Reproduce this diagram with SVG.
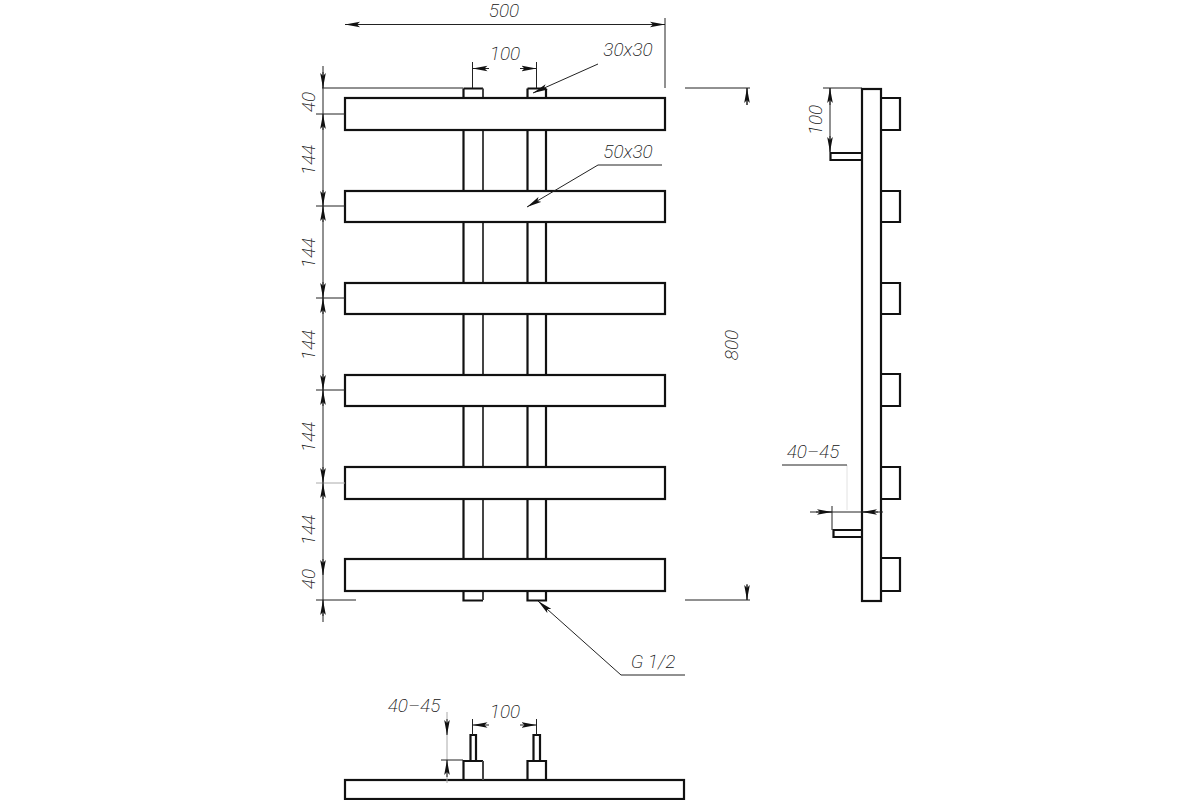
<svg xmlns="http://www.w3.org/2000/svg" width="1200" height="800" viewBox="0 0 1200 800">
<style>
.o{fill:#fff;stroke:#111;stroke-width:2.2}
.p{fill:none;stroke:#111;stroke-width:2.2}
.g{fill:none;stroke:#444;stroke-width:2}
.t{fill:none;stroke:#222;stroke-width:1}
.l{fill:none;stroke:#aaa;stroke-width:1}
.f{fill:none;stroke:#e2e2e2;stroke-width:1}
.a{fill:none;stroke:#222;stroke-width:1;marker-end:url(#h)}
text{font-family:Roboto,"Liberation Sans",sans-serif;font-style:italic;font-weight:200;font-size:19px;fill:#111;text-anchor:middle}
</style>
<defs><marker id="h" markerUnits="userSpaceOnUse" markerWidth="16" markerHeight="7" refX="15" refY="3.500" orient="auto"><path d="M0 .7L15 3.500L0 6.300L3 3.500Z" fill="#111"/></marker></defs>
<rect width="1200" height="800" fill="#fff"/>
<g id="front-view">
<path class="p" d="M463.500 88.500H483M527.500 88.500H546M463.500 88.500V98M527.500 88.500V98M546 88.500V98"/>
<path class="g" d="M483 88.500V98"/>
<path class="p" d="M463.500 130V191M463.500 222V283M463.500 314V375M463.500 406V467M463.500 499V559M463.500 591V600.500H483M527.500 130V191M527.500 222V283M527.500 314V375M527.500 406V467M527.500 499V559M527.500 591V600.500H546V591M546 130V191M546 222V283M546 314V375M546 406V467M546 499V559"/>
<path class="g" d="M483 130V191M483 222V283M483 314V375M483 406V467M483 499V559M483 591V600"/>
<rect class="o" x="345" y="98" width="320" height="32"/>
<rect class="o" x="345" y="191" width="320" height="31"/>
<rect class="o" x="345" y="283" width="320" height="31"/>
<rect class="o" x="345" y="375" width="320" height="31"/>
<rect class="o" x="345" y="467" width="320" height="32"/>
<rect class="o" x="345" y="559" width="320" height="32"/>
</g>
<g id="side-view">
<rect class="o" x="862" y="89" width="19" height="512"/>
<path class="p" d="M881 98H900V130H881M881 191H900V222H881M881 283H900V314H881M881 374H900V406H881M881 467H900V499H881M881 558H900V591H881"/>
<path class="p" d="M862 153H830.500V160H862M862 530H833.500V537H862"/>
</g>
<g id="bottom-view">
<rect class="o" x="345" y="780" width="339" height="19"/>
<path class="p" d="M463.500 780V761H483M527.500 780V761H546V780"/>
<path class="g" d="M483 761V780"/>
<path class="p" d="M470.500 761V735H476V761M533.500 761V735H540V761"/>
</g>
<g id="connectors">
<path class="t" d="M345 24.500H665M665 18V88M323 66V622M322 88H463M472.500 62V88M536.500 62V88"/>
<path class="t" d="M316 114H345M316 206H345M316 298H345M316 390H345M316 600H356"/>
<path class="l" d="M316 483H345M447 712V783"/>
<path class="f" d="M847 465V510"/>
<path class="t" d="M685 88H750M685 600H750M747 88V105M747 585V600"/>
<path class="t" d="M823 88H862M830 88V152M810 512H883M832 506V530M782 465H847M621 675H685M598 165H662"/>
<path class="t" d="M441 760H463M472.500 719V735M536.500 719V735"/>
<path class="a" d="M362 24.500H345"/><path class="a" d="M648 24.500H665"/>
<path class="a" d="M489 68.500H472.500"/><path class="a" d="M520 68.500H536.500"/>
<path class="a" d="M489 725H472.500"/><path class="a" d="M520 725H536.500"/>
<path class="a" d="M598 64L533 93"/><path class="a" d="M598 165L527 207"/><path class="a" d="M621 675L538 601"/>
<path class="a" d="M323 72V88"/><path class="a" d="M323 130V114"/><path class="a" d="M323 190V206"/><path class="a" d="M323 222V206"/><path class="a" d="M323 282V298"/><path class="a" d="M323 314V298"/><path class="a" d="M323 374V390"/><path class="a" d="M323 406V390"/><path class="a" d="M323 467V483"/><path class="a" d="M323 499V483"/><path class="a" d="M323 559V575"/><path class="a" d="M323 616V600"/>
<path class="a" d="M747 105V88"/><path class="a" d="M747 584V600"/>
<path class="a" d="M830 105V88"/><path class="a" d="M830 136V152"/>
<path class="a" d="M816 512H832"/><path class="a" d="M878 512H862"/>
<path class="a" d="M447 719V735"/><path class="a" d="M447 777V760"/>
</g>
<g id="labels">
<text x="504" y="17">500</text>
<text x="505" y="60">100</text>
<text x="628" y="56">30x30</text>
<text x="628" y="158">50x30</text>
<text x="653" y="668">G 1/2</text>
<text x="414" y="712">40–45</text>
<text x="505" y="718">100</text>
<text x="813" y="458">40–45</text>
<text transform="translate(315 102) rotate(-90)">40</text>
<text transform="translate(315 160) rotate(-90)">144</text>
<text transform="translate(315 253) rotate(-90)">144</text>
<text transform="translate(315 345) rotate(-90)">144</text>
<text transform="translate(315 437) rotate(-90)">144</text>
<text transform="translate(315 530) rotate(-90)">144</text>
<text transform="translate(315 579) rotate(-90)">40</text>
<text transform="translate(738 345) rotate(-90)">800</text>
<text transform="translate(822 120) rotate(-90)">100</text>
</g>
</svg>
